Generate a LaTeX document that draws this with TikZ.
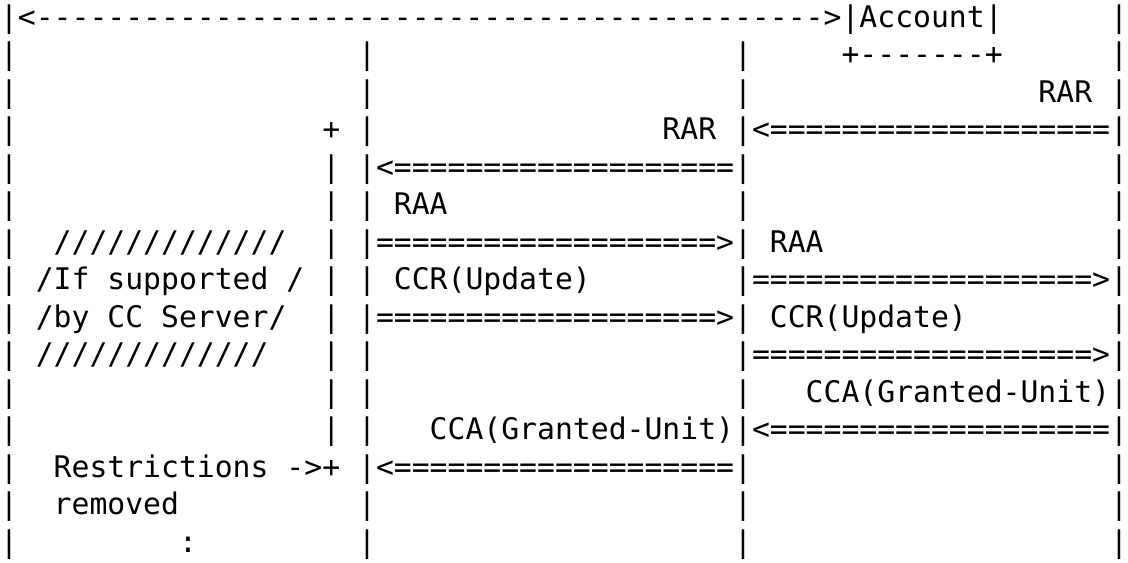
\documentclass[tikz,border=0pt]{standalone}
\usepackage{fontspec}
\setmonofont{DejaVu Sans Mono}

\begin{document}
\begin{tikzpicture}[font=\ttfamily, x=6.0205pt, y=-12.62pt,
    cell/.style={anchor=base west, inner sep=0pt, outer sep=0pt}]

% grid: one unit across = one character, one unit down = one text line
% rows 1..15, columns 0..62
\useasboundingbox (0,0.28) rectangle (63,15.28);

% ---- lifelines ----
\foreach \r in {1,...,15} {
  \node[cell] (user\r)   at (0,\r)  {|};
  \node[cell] (server\r) at (62,\r) {|};
}
\foreach \r in {2,...,15} {
  \node[cell] (client\r) at (20,\r) {|};
  \node[cell] (aaa\r)    at (41,\r) {|};
}
% restricted period on the client side
\node[cell] (holdtop) at (18,4) {+};
\foreach \r in {5,...,12}
  \node[cell] (hold\r) at (18,\r) {|};
\node[cell] (holdend) at (18,13) {+};

% ---- account ----
\node[cell] (session) at (1,1)  {<-------------------------------------------->};
\node[cell] (account) at (47,1) {|Account|};
\node[cell] (accbase) at (47,2) {+-------+};

% ---- re-auth ----
\node[cell] (rar1)   at (58,3) {RAR};
\node[cell] (rar2)   at (37,4) {RAR};
\node[cell] (rarin)  at (42,4) {<===================};
\node[cell] (rarfwd) at (21,5) {<===================};
\node[cell] (raa1)   at (22,6) {RAA};
\node[cell] (raasend) at (21,7) {===================>};
\node[cell] (raa2)   at (43,7) {RAA};
\node[cell] (raaout) at (42,8) {===================>};

% ---- update ----
\node[cell] (ccr1)    at (22,8)  {CCR(Update)};
\node[cell] (ccrsend) at (21,9)  {===================>};
\node[cell] (ccr2)    at (43,9)  {CCR(Update)};
\node[cell] (ccrout)  at (42,10) {===================>};
\node[cell] (cca1)    at (45,11) {CCA(Granted-Unit)};
\node[cell] (cca2)    at (24,12) {CCA(Granted-Unit)};
\node[cell] (ccain)   at (42,12) {<===================};
\node[cell] (ccafwd)  at (21,13) {<===================};

% ---- note box ----
\node[cell] (note1) at (3,7)  {/////////////};
\node[cell] (note2) at (2,8)  {/If supported /};
\node[cell] (note3) at (2,9)  {/by CC Server/};
\node[cell] (note4) at (2,10) {/////////////};

% restrictions lifted
\node[cell] (restr)   at (3,13)  {Restrictions ->};
\node[cell] (removed) at (3,14)  {removed};
\node[cell] (dots)    at (10,15) {:};

\end{tikzpicture}
\end{document}
